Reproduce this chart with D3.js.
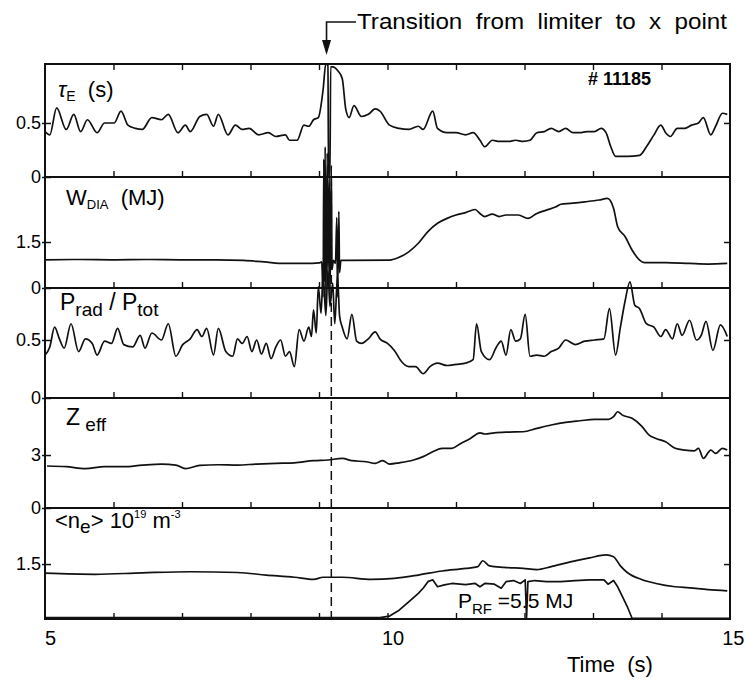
<!DOCTYPE html>
<html><head><meta charset="utf-8">
<script src="https://cdn.jsdelivr.net/npm/d3@7"></script>
<style>
body{margin:0;background:#fff}
text{font-family:"Liberation Sans",Arial,Helvetica,sans-serif;fill:#000}
</style>
</head><body>
<svg id="chart" width="745" height="682"></svg>
<script>
// ---------- data ----------
const timeTau = [5.00,5.07,5.17,5.31,5.42,5.52,5.62,5.76,5.87,6.01,6.11,6.21,6.32,6.42,6.56,6.70,6.80,6.94,7.05,7.12,7.26,7.36,7.46,7.53,7.67,7.78,7.88,7.98,8.12,8.26,8.37,8.51,8.57,8.68,8.78,8.85,8.92,8.99,9.06,9.10,9.13,9.14,9.16,9.17,9.20,9.28,9.34,9.39,9.44,9.51,9.62,9.72,9.82,9.89,10.03,10.17,10.31,10.45,10.52,10.66,10.73,10.87,11.00,11.14,11.25,11.35,11.42,11.53,11.63,11.77,11.87,11.98,12.08,12.18,12.29,12.39,12.50,12.60,12.71,12.81,12.91,13.02,13.12,13.19,13.26,13.33,13.50,13.68,13.78,13.89,13.99,14.06,14.13,14.23,14.34,14.44,14.54,14.61,14.72,14.79,14.89,14.96];
const tauE = [0.42,0.39,0.64,0.44,0.58,0.42,0.53,0.41,0.50,0.50,0.61,0.48,0.45,0.44,0.55,0.53,0.58,0.41,0.48,0.42,0.56,0.58,0.47,0.58,0.39,0.48,0.44,0.45,0.39,0.41,0.375,0.39,0.34,0.34,0.48,0.47,0.53,0.55,0.81,1.05,1.03,0.0,0.0,1.02,1.02,0.98,0.91,0.63,0.55,0.66,0.56,0.58,0.63,0.61,0.48,0.45,0.44,0.47,0.44,0.61,0.45,0.41,0.41,0.39,0.41,0.34,0.28,0.34,0.33,0.33,0.34,0.33,0.34,0.41,0.42,0.45,0.42,0.45,0.41,0.41,0.42,0.42,0.45,0.41,0.28,0.19,0.19,0.20,0.28,0.39,0.48,0.41,0.375,0.45,0.45,0.48,0.50,0.55,0.39,0.47,0.59,0.58];

const timeW = [5.0,5.5,6.0,6.5,7.0,7.5,7.9,8.2,8.5,8.8,9.00,9.04,9.06,9.07,9.08,9.09,9.10,9.12,9.13,9.15,9.16,9.18,9.19,9.21,9.24,9.26,9.27,9.29,9.30,9.32,9.40,10.03,10.17,10.31,10.45,10.59,10.73,10.87,11.00,11.14,11.28,11.35,11.42,11.53,11.63,11.73,11.91,12.05,12.18,12.32,12.46,12.53,12.67,12.88,13.09,13.21,13.30,13.36,13.47,13.57,13.68,13.75,14.06,14.41,14.68,14.96];
const wDia = [0.92,0.93,0.92,0.93,0.92,0.92,0.90,0.85,0.80,0.80,0.82,0.85,-0.3,4.2,0.2,4.6,-0.5,4.4,0.3,3.8,-0.4,4.0,0.6,0.9,0.8,2.3,-0.3,2.5,0.5,0.9,0.90,0.91,1.00,1.18,1.46,1.84,2.11,2.27,2.38,2.46,2.56,2.43,2.33,2.41,2.33,2.38,2.38,2.27,2.43,2.54,2.65,2.73,2.76,2.81,2.87,2.92,2.60,2.00,1.67,1.24,0.91,0.83,0.83,0.80,0.78,0.80];

const timePrad = [5.00,5.07,5.14,5.21,5.28,5.38,5.49,5.59,5.69,5.76,5.87,5.97,6.06,6.15,6.28,6.39,6.46,6.56,6.70,6.80,6.91,7.01,7.12,7.22,7.29,7.36,7.46,7.53,7.64,7.74,7.81,7.88,7.95,8.02,8.09,8.16,8.23,8.30,8.37,8.44,8.51,8.57,8.64,8.71,8.78,8.85,8.89,8.92,8.96,8.99,9.03,9.06,9.10,9.13,9.16,9.20,9.23,9.27,9.30,9.34,9.41,9.48,9.55,9.62,9.72,9.82,9.89,10.00,10.10,10.21,10.31,10.41,10.52,10.62,10.73,10.87,11.00,11.14,11.25,11.30,11.37,11.49,11.59,11.66,11.73,11.80,11.87,11.94,12.01,12.08,12.18,12.29,12.39,12.50,12.60,12.74,12.88,13.02,13.16,13.24,13.33,13.40,13.47,13.54,13.61,13.68,13.78,13.89,13.99,14.06,14.16,14.23,14.30,14.41,14.51,14.58,14.65,14.75,14.86,14.96];
const pRad = [0.37,0.44,0.61,0.51,0.43,0.64,0.40,0.51,0.47,0.37,0.49,0.47,0.60,0.46,0.44,0.54,0.43,0.56,0.50,0.64,0.36,0.46,0.51,0.59,0.53,0.60,0.37,0.60,0.40,0.36,0.51,0.47,0.53,0.40,0.50,0.38,0.47,0.34,0.44,0.50,0.36,0.40,0.27,0.59,0.49,0.61,0.53,0.76,0.56,0.96,0.73,1.07,0.71,1.10,0.79,0.99,0.64,1.05,0.71,0.61,0.51,0.72,0.49,0.47,0.51,0.57,0.51,0.47,0.41,0.31,0.27,0.27,0.21,0.27,0.30,0.28,0.29,0.30,0.33,0.64,0.40,0.33,0.44,0.49,0.37,0.59,0.49,0.51,0.72,0.36,0.37,0.36,0.40,0.43,0.50,0.46,0.49,0.50,0.51,0.77,0.37,0.61,0.84,1.00,0.80,0.77,0.64,0.61,0.53,0.59,0.51,0.64,0.54,0.67,0.50,0.54,0.66,0.41,0.63,0.53];

const timeZ = [5.03,5.31,5.59,5.87,6.15,6.42,6.70,6.91,7.05,7.26,7.53,7.81,8.09,8.37,8.64,8.92,9.13,9.34,9.48,9.69,9.82,9.93,10.03,10.17,10.38,10.52,10.66,10.80,10.94,11.07,11.21,11.35,11.42,11.56,11.77,11.98,12.18,12.39,12.60,12.81,13.02,13.23,13.30,13.36,13.43,13.57,13.71,13.82,13.92,14.06,14.20,14.34,14.48,14.54,14.61,14.72,14.79,14.89,14.96];
const zEff = [2.38,2.34,2.23,2.34,2.34,2.43,2.49,2.43,2.23,2.41,2.45,2.43,2.49,2.53,2.56,2.68,2.72,2.81,2.68,2.62,2.53,2.68,2.49,2.56,2.72,2.91,3.19,3.38,3.38,3.66,3.94,4.26,4.19,4.26,4.30,4.32,4.51,4.70,4.85,4.94,5.02,5.02,5.17,5.45,5.26,5.08,4.64,4.13,3.94,3.75,3.38,3.28,3.24,3.38,2.81,3.28,3.09,3.38,3.28];

const timeNe = [5.00,5.73,6.42,7.12,7.81,8.23,8.64,8.92,9.06,9.34,9.76,10.10,10.45,10.80,11.14,11.32,11.39,11.49,11.70,11.98,12.18,12.39,12.67,12.95,13.19,13.30,13.40,13.50,13.71,13.92,14.20,14.41,14.68,14.96];
const neAvg = [1.25,1.22,1.26,1.29,1.27,1.20,1.14,1.08,1.14,1.14,1.08,1.11,1.20,1.31,1.38,1.43,1.59,1.45,1.41,1.38,1.35,1.43,1.56,1.67,1.75,1.70,1.45,1.27,1.08,0.97,0.88,0.85,0.80,0.77];

const timeRf = [5.00,9.89,10.03,10.17,10.31,10.45,10.52,10.59,10.66,10.73,10.83,10.94,11.14,11.28,11.35,11.42,11.56,11.66,11.73,11.84,11.94,12.01,12.03,12.05,12.15,12.32,12.53,12.74,12.95,13.16,13.22,13.30,13.36,13.43,13.50,13.57,15.00];
const pRf = [0.04,0.04,0.08,0.24,0.47,0.70,0.84,1.02,1.07,0.88,0.93,0.97,0.94,0.97,0.88,0.97,0.95,0.84,1.02,1.05,0.97,1.07,0.04,1.02,1.05,1.02,1.02,1.05,1.07,1.07,0.95,1.05,0.88,0.61,0.34,0.02,0.02];

const xTickLabels = [5, 10, 15];
const xMinorTicks = [6, 7, 8, 9, 10, 11, 12, 13, 14];
const transitionTime = 9.18;

// ---------- layout ----------
const svg = d3.select("#chart");
const X0 = 45, X1 = 730;
const x = d3.scaleLinear().domain([5, 15]).range([X0, X1]);

const panels = [
  {top: 64,  bottom: 177, max: 1.046, ticks: [0, 0.5], labels: ["0", "0.5"], t: timeTau,  v: tauE},
  {top: 177, bottom: 288, max: 3.62,  ticks: [0, 1.5], labels: ["0", "1.5"], t: timeW,    v: wDia},
  {top: 288, bottom: 398, max: 0.948, ticks: [0, 0.5], labels: ["0", "0.5"], t: timePrad, v: pRad},
  {top: 398, bottom: 508, max: 6.23,  ticks: [0, 3],   labels: ["0", "3"],   t: timeZ,    v: zEff},
  {top: 508, bottom: 619, max: 3.03,  ticks: [1.5],    labels: ["1.5"],      t: timeNe,   v: neAvg}
];
panels.forEach(p => { p.y = d3.scaleLinear().domain([0, p.max]).range([p.bottom, p.top]); });

const ink = "#111";

// frame: outer box + panel separators
svg.append("rect").attr("x", X0).attr("y", 64).attr("width", X1 - X0).attr("height", 619 - 64)
  .attr("fill", "none").attr("stroke", ink).attr("stroke-width", 2);
panels.forEach(p => {
  svg.append("line").attr("x1", X0).attr("x2", X1).attr("y1", p.bottom).attr("y2", p.bottom)
    .attr("stroke", ink).attr("stroke-width", 1.8);
});

// axes per panel
panels.forEach((p, i) => {
  const gl = svg.append("g").attr("transform", `translate(${X0},0)`)
    .call(d3.axisLeft(p.y).tickValues(p.ticks).tickFormat((d, k) => p.labels[k]).tickSize(-6).tickPadding(5));
  gl.select(".domain").remove();
  gl.selectAll(".tick line").attr("stroke", ink).attr("stroke-width", 1.5).attr("x1", -3);
  gl.selectAll(".tick text").attr("font-size", 18).attr("x", -4);
  const gr = svg.append("g").attr("transform", `translate(${X1},0)`)
    .call(d3.axisRight(p.y).tickValues(p.ticks.filter(d => d > 0)).tickSize(-6).tickFormat(""));
  gr.select(".domain").remove();
  gr.selectAll(".tick line").attr("stroke", ink).attr("stroke-width", 1.5);
  // minor time ticks pointing up from each panel bottom
  const gb = svg.append("g").attr("transform", `translate(0,${p.bottom})`)
    .call(d3.axisBottom(x).tickValues(xMinorTicks).tickSize(-6).tickFormat(""));
  gb.select(".domain").remove();
  gb.selectAll(".tick line").attr("stroke", ink).attr("stroke-width", 1.4);
});
// top ticks
const gt = svg.append("g").attr("transform", `translate(0,64)`)
  .call(d3.axisTop(x).tickValues(xMinorTicks).tickSize(-6).tickFormat(""));
gt.select(".domain").remove();
gt.selectAll(".tick line").attr("stroke", ink).attr("stroke-width", 1.4);

// bottom labels
const gx = svg.append("g").attr("transform", `translate(0,619)`)
  .call(d3.axisBottom(x).tickValues(xTickLabels).tickSize(0).tickPadding(12).tickFormat(d3.format("d")));
gx.select(".domain").remove();
gx.selectAll(".tick text").attr("font-size", 20)
  .attr("text-anchor", d => d === 15 ? "end" : "middle")
  .attr("dx", d => d === 15 ? 14 : 5);

// dashed transition line
svg.append("line").attr("x1", x(transitionTime)).attr("x2", x(transitionTime))
  .attr("y1", 177).attr("y2", 619).attr("stroke", ink).attr("stroke-width", 1.5)
  .attr("stroke-dasharray", "9,5");

// traces
panels.forEach(p => {
  const line = d3.line().curve(d3.curveMonotoneX).x((d, k) => x(p.t[k])).y(d => p.y(d));
  svg.append("path").datum(p.v).attr("d", line).attr("fill", "none")
    .attr("stroke", ink).attr("stroke-width", 1.7).attr("stroke-linejoin", "round");
});
const pNe = panels[4];
svg.append("path").datum(pRf)
  .attr("d", d3.line().x((d, k) => x(timeRf[k])).y(d => pNe.y(d)))
  .attr("fill", "none").attr("stroke", ink).attr("stroke-width", 1.7).attr("stroke-linejoin", "round");

// ---------- text labels ----------
function label(xp, yp, parts, size) {
  const t = svg.append("text").attr("x", xp).attr("y", yp).attr("font-size", size);
  let shift = 0;
  parts.forEach(pt => {
    const s = t.append("tspan").text(pt.s);
    const d = (pt.dy || 0) - shift;
    if (d) s.attr("dy", d);
    shift = pt.dy || 0;
    if (pt.size) s.attr("font-size", pt.size);
    if (pt.style) s.attr("font-style", pt.style);
  });
  return t;
}
label(58, 97, [{s: "τ", style: "italic"}, {s: "E", size: 14, dy: 4}, {s: "\u00a0\u00a0(s)"}], 22);
label(66, 205, [{s: "W"}, {s: "DIA", size: 13, dy: 4}, {s: "\u00a0\u00a0(MJ)"}], 22);
label(60, 310, [{s: "P"}, {s: "rad", size: 19, dy: 6}, {s: "\u00a0/\u00a0"}, {s: "P"}, {s: "tot", size: 19, dy: 6}], 23);
label(66, 425, [{s: "Z"}, {s: "\u00a0eff", size: 19, dy: 6}], 23);
label(55, 528, [{s: "<n"}, {s: "e", size: 19, dy: 5}, {s: ">\u00a010"}, {s: "19", size: 11, dy: -10}, {s: "\u00a0m"}, {s: "-3", size: 11, dy: -10}], 22);
label(458, 608, [{s: "P"}, {s: "RF", size: 15, dy: 6}, {s: "\u00a0=5.5 MJ"}], 21);

svg.append("text").attr("x", 588).attr("y", 85).attr("font-size", 18).attr("font-weight", "bold").text("#\u00a011185");
svg.append("text").attr("x", 567).attr("y", 672).attr("font-size", 22).text("Time\u00a0\u00a0(s)");

// transition annotation
svg.append("text").attr("x", 357).attr("y", 29).attr("font-size", 22)
  .attr("textLength", 370).attr("lengthAdjust", "spacingAndGlyphs")
  .text("Transition\u00a0 from\u00a0 limiter\u00a0 to\u00a0 x\u00a0 point");
const ax = x(9.11);
svg.append("path").attr("d", `M356,22 H${ax} V46`).attr("fill", "none").attr("stroke", ink).attr("stroke-width", 1.6);
svg.append("path").attr("d", `M${ax - 4.5},40 L${ax + 4.5},40 L${ax},55 Z`).attr("fill", ink);
</script>
</body></html>
